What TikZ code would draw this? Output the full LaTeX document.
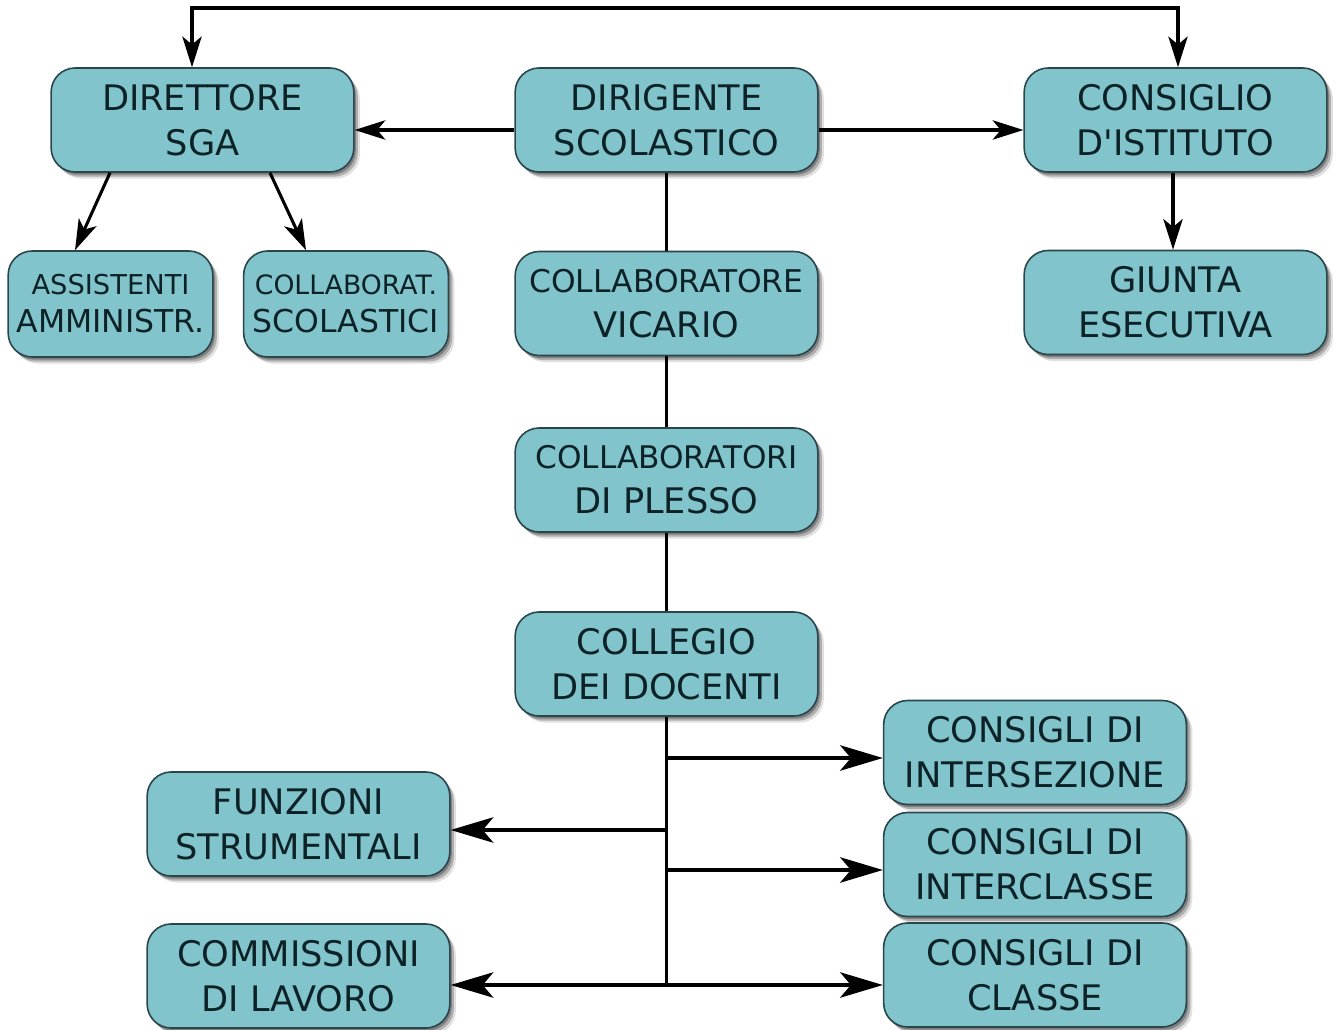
\documentclass[tikz,border=0pt]{standalone}
\usepackage{fontspec}
\setmainfont{DejaVu Sans}
\usetikzlibrary{arrows.meta,shadows}
\definecolor{boxfill}{HTML}{82C4CC}
\definecolor{boxline}{HTML}{2A464B}
\definecolor{boxtext}{HTML}{0C2226}
\tikzset{
  orgbox/.style={draw=boxline, line width=1.2pt, fill=boxfill, rounded corners=18pt,
    text=boxtext, align=center, inner sep=0pt,
    font=\fontsize{26.4}{33.75}\selectfont,
    drop shadow={shadow xshift=1.5pt, shadow yshift=-2pt, opacity=0.28, fill=black},
    drop shadow={shadow xshift=3pt, shadow yshift=-3.5pt, opacity=0.22, fill=black},
    drop shadow={shadow xshift=4.5pt, shadow yshift=-5pt, opacity=0.12, fill=black}},
  widebox/.style={minimum width=227pt, minimum height=78pt},
  smallbox/.style={minimum width=153.5pt, minimum height=79.5pt},
  hdA/.tip={Stealth[length=23pt,width=14.5pt,inset=6pt]},
  hdB/.tip={Stealth[length=32pt,width=19pt,inset=8pt]},
  upline/.style={line width=2.3pt, draw=black},
  lowline/.style={line width=3pt, draw=black},
}
\begin{document}
\begin{tikzpicture}[x=0.75pt,y=-0.75pt]
\useasboundingbox (0,0) rectangle (1338,1030);

\node[orgbox, widebox] (dsga) at (202.5,120) {DIRETTORE\\SGA};
\node[orgbox, widebox] (dir) at (666.5,120) {DIRIGENTE\\SCOLASTICO};
\node[orgbox, widebox] (ci) at (1175.5,120) {CONSIGLIO\\D\textquotesingle ISTITUTO};
\node[orgbox, smallbox, font=\fontsize{23.6}{28.5}\selectfont] (ass) at (110.5,304)
  {{\fontsize{20.5}{28.5}\selectfont ASSISTENTI}\\AMMINISTR.};
\node[orgbox, smallbox, font=\fontsize{23.6}{28.5}\selectfont] (cs) at (346,304)
  {{\fontsize{20}{28.5}\selectfont COLLABORAT.}\\SCOLASTICI};
\node[orgbox, widebox] (vic) at (666.5,303.5)
  {{\fontsize{23.5}{33.75}\selectfont COLLABORATORE}\\VICARIO};
\node[orgbox, widebox] (giunta) at (1175.5,302.5) {GIUNTA\\ESECUTIVA};
\node[orgbox, widebox] (plesso) at (666.5,480)
  {{\fontsize{23.4}{33.75}\selectfont COLLABORATORI}\\DI PLESSO};
\node[orgbox, widebox] (collegio) at (666.5,664) {COLLEGIO\\DEI DOCENTI};
\node[orgbox, widebox] (inters) at (1035,752.5) {CONSIGLI DI\\INTERSEZIONE};
\node[orgbox, widebox] (intercl) at (1035,864.5) {CONSIGLI DI\\INTERCLASSE};
\node[orgbox, widebox] (classe) at (1035,975) {CONSIGLI DI\\CLASSE};
\node[orgbox, widebox] (funz) at (298.5,824) {FUNZIONI\\STRUMENTALI};
\node[orgbox, widebox] (comm) at (298.5,976) {COMMISSIONI\\DI LAVORO};

% top connector
\draw[upline, hdA-hdA] (dsga.north -| 192,0) |- (1178,8) -- (ci.north -| 1178,0);
% dirigente sideways
\draw[upline, -hdA] (dir.west |- 0,130) -- (dsga.east |- 0,130);
\draw[upline, -hdA] (dir.east |- 0,130) -- (ci.west |- 0,130);
% DSGA children
\draw[upline, -hdA] (dsga.south -| 110,0) -- (ass.north -| 75,0);
\draw[upline, -hdA] (dsga.south -| 270,0) -- (cs.north -| 306,0);
% consiglio -> giunta
\draw[upline, -hdA] (ci.south -| 1173,0) -- (giunta.north -| 1173,0);
% central chain
\draw[upline] (dir.south) -- (vic.north);
\draw[upline] (vic.south) -- (plesso.north);
\draw[upline] (plesso.south) -- (collegio.north);
\draw[upline] (collegio.south) -- (collegio.south |- 0,986.5);
% branches
\draw[lowline, -hdB] (collegio.south |- 0,758) -- (inters.west |- 0,758);
\draw[lowline, -hdB] (collegio.south |- 0,830) -- (funz.east |- 0,830);
\draw[lowline, -hdB] (collegio.south |- 0,870) -- (intercl.west |- 0,870);
\draw[lowline, hdB-hdB] (comm.east |- 0,985) -- (classe.west |- 0,985);
\end{tikzpicture}
\end{document}
